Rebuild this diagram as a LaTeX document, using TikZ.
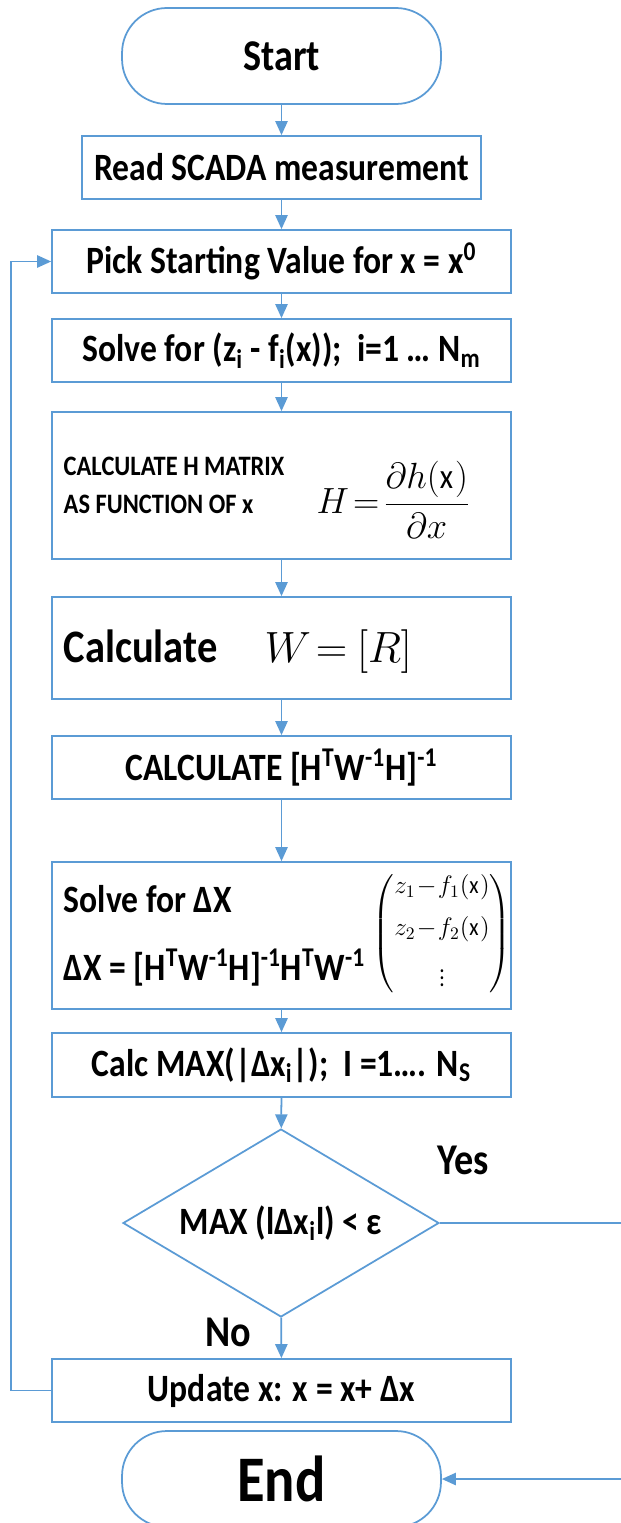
\documentclass[tikz,border=0pt]{standalone}
\usepackage{amsmath,amssymb}
\usepackage{fontspec}
\setmainfont{Carlito}[FakeStretch=0.87]
\usetikzlibrary{arrows.meta,shapes.geometric}
\definecolor{flowblue}{RGB}{91,155,213}

\begin{document}
\begin{tikzpicture}[x=0.02cm, y=-0.02cm, line width=1pt,
    every node/.style={font=\bfseries\fontsize{22}{26}\selectfont},
    box/.style={draw=flowblue, rectangle, minimum width=9.18cm, minimum height=1.26cm, inner sep=0pt},
    term/.style={draw=flowblue, rectangle, rounded corners=0.9cm, minimum width=6.38cm, minimum height=1.92cm},
    flow/.style={draw=flowblue, -{Triangle[width=7pt,length=8pt]}},
    smalltxt/.style={font=\bfseries\fontsize{16}{21.6}\selectfont},
    bigtxt/.style={font=\bfseries\fontsize{25}{30}\selectfont}]
    \useasboundingbox (0,0) rectangle (621,1523);

    % --- Start and input ---
    \node[term, bigtxt] (start) at (281.5,56) {Start};
    \node[box, minimum width=7.98cm] (read) at (281.5,167.5) {Read SCADA measurement};
    \node[box] (pick) at (281.5,261.5) {Pick Starting Value for x = x\textsuperscript{0}};
    \node[box] (solve) at (281.5,350.5) {Solve for (z\textsubscript{i} - f\textsubscript{i}(x));\ \ i=1 \dots\ N\textsubscript{m}};

    % --- H matrix ---
    \node[box, minimum height=2.94cm] (hmat) at (281.5,485.5) {};
    \node[smalltxt, align=left, anchor=west] (hmattxt) at (57,485) {CALCULATE H MATRIX\\AS FUNCTION OF x};
    \node[anchor=west, font=\fontsize{20}{24}\selectfont] (hmateq) at (310,500) {$H\!=\!\dfrac{\partial h(\mathrm{x})}{\partial x}$};

    % --- W matrix ---
    \node[box, minimum height=2.04cm] (wmat) at (281.5,648) {};
    \node[anchor=base west, font=\bfseries\fontsize{26.5}{30}\selectfont] (wtxt) at (57,662) {Calculate};
    \node[anchor=base west, font=\fontsize{23}{27}\selectfont] (weq) at (258,662) {$W\mkern2mu{=}\mkern1mu\left[R\right]$};

    \node[box] (gain) at (281.5,767.5) {CALCULATE [H\textsuperscript{T}W\textsuperscript{-1}H]\textsuperscript{-1}};

    % --- state update ---
    \node[box, minimum height=2.94cm] (dx) at (281.5,935.5) {};
    \node[anchor=base west] (dxa) at (57,912) {Solve for ΔX};
    \node[anchor=base west] (dxb) at (57,980) {ΔX = [H\textsuperscript{T}W\textsuperscript{-1}H]\textsuperscript{-1}H\textsuperscript{T}W\textsuperscript{-1}};
    \node[font=\fontsize{14}{17}\selectfont] (dxm) at (442,934) {$\begin{pmatrix} z_1\!-\!f_1(\mathrm{x})\\[7pt] z_2\!-\!f_2(\mathrm{x})\\[8pt] \vdots\end{pmatrix}$};

    \node[box, minimum height=1.28cm] (cmax) at (281.5,1065) {Calc MAX(|Δx\textsubscript{i}|);\ \ I =1\dots. N\textsubscript{S}};

    % --- test and loop ---
    \node[draw=flowblue, diamond, aspect=1.68, inner sep=0pt, minimum width=6.32cm, minimum height=3.76cm] (dec) at (281,1223) {MAX (lΔx\textsubscript{i}l) < ε};
    \node[bigtxt] (yes) at (463,1160) {Yes};
    \node[bigtxt] (no) at (228,1332) {No};
    \node[box] (upd) at (281.5,1390.5) {Update x: x = x+ Δx};
    \node[term, font=\bfseries\fontsize{37}{40}\selectfont] (stop) at (281.5,1479) {End};

    \coordinate (yesout) at (621,1223);
    \coordinate (endin) at (621,1479);

    % arrows down the main column
    \draw[flow] (start) -- (read);
    \draw[flow] (read) -- (pick);
    \draw[flow] (pick) -- (solve);
    \draw[flow] (solve) -- (hmat);
    \draw[flow] (hmat) -- (wmat);
    \draw[flow] (wmat) -- (gain);
    \draw[flow] (gain) -- (dx);
    \draw[flow] (dx) -- (cmax);
    \draw[flow] (cmax) -- (dec);
    \draw[flow] (dec) -- (upd);

    % loop back and exit
    \draw[flow] (upd.west) -- ++(-40,0) |- (pick.west);
    \draw[draw=flowblue] (dec.east) -- (yesout);
    \draw[flow] (endin) -- (stop.east);
\end{tikzpicture}
\end{document}
